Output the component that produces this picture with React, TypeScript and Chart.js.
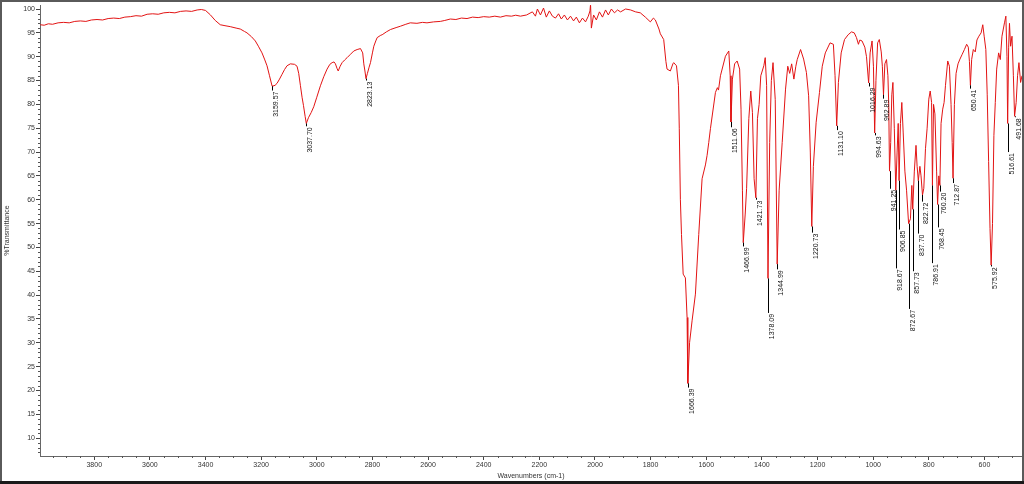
import React, { useEffect, useRef } from 'react';
import { Chart, registerables } from 'chart.js';
Chart.register(...registerables);

// IR spectrum (wavenumber in cm-1, %T)
const wavenumbers = [
  3994, 3980, 3965, 3950, 3930, 3910, 3890, 3870, 3850, 3830, 3810, 3790, 3770, 3750, 3730, 3710, 3690, 3670, 3650, 3630,
  3610, 3590, 3570, 3550, 3530, 3510, 3490, 3470, 3450, 3430, 3415, 3400, 3383, 3365, 3347, 3330, 3311, 3290, 3275, 3260,
  3251, 3235, 3221, 3210, 3197, 3188, 3179, 3170, 3161, 3159.57, 3150, 3143, 3134, 3125, 3116, 3107, 3095, 3080, 3071, 3065,
  3059, 3053, 3048, 3042, 3037.7, 3030, 3020, 3011, 3000, 2987, 2975, 2963, 2953, 2945, 2938, 2933, 2927, 2923, 2916, 2909,
  2900, 2891, 2879, 2867, 2855, 2843, 2835, 2831, 2827, 2823.13, 2818, 2812, 2807, 2800, 2795, 2788, 2783, 2770, 2765, 2750,
  2735, 2715, 2699, 2680, 2664, 2640, 2620, 2604, 2580, 2556, 2540, 2520, 2500, 2480, 2460, 2440, 2420, 2400, 2380, 2360,
  2340, 2320, 2300, 2285, 2268, 2246, 2225, 2214, 2207, 2196, 2185, 2175, 2164, 2153, 2142, 2131, 2121, 2110, 2099, 2088,
  2077, 2067, 2056, 2045, 2034, 2024, 2018, 2016, 2013, 2005, 1995, 1984, 1973, 1962, 1952, 1941, 1930, 1919, 1908, 1890,
  1872, 1854, 1837, 1819, 1801, 1790, 1783, 1770, 1765, 1753, 1745, 1741, 1729, 1720, 1717, 1707, 1700, 1697, 1693, 1689,
  1683, 1675, 1669, 1666.39, 1660, 1651, 1639, 1627, 1615, 1603, 1597, 1591, 1585, 1567, 1560, 1556, 1549, 1531, 1519, 1514,
  1511.06, 1506, 1498, 1489, 1480, 1475, 1470, 1466.99, 1460, 1455, 1447, 1440, 1434, 1428, 1421.73, 1416, 1410, 1404, 1393, 1388,
  1383, 1378.09, 1372, 1366, 1360, 1352, 1344.99, 1338, 1327, 1315, 1307, 1300, 1293, 1285, 1278, 1273, 1261, 1250, 1240, 1232,
  1226, 1220.73, 1215, 1205, 1193, 1183, 1172, 1155, 1143, 1137, 1131.1, 1125, 1115, 1103, 1090, 1078, 1068, 1060, 1053, 1048,
  1040, 1030, 1024, 1016.29, 1011, 1004, 999, 994.63, 990, 984, 978, 971, 967, 962.89, 958, 952, 947, 944, 941.25, 937,
  933, 929, 924, 918.67, 914, 910, 906.85, 902, 897, 892, 886, 880, 872.67, 866, 861, 857.73, 852, 846, 842, 837.7,
  832, 828, 822.72, 818, 812, 806, 800, 795, 790, 786.91, 783, 778, 772, 768.45, 764, 760.2, 756, 750, 745, 740,
  732, 726, 720, 716, 712.87, 708, 702, 695, 688, 680, 672, 664, 658, 654, 650.41, 646, 640, 633, 627, 620,
  612, 606, 601, 595, 590, 585, 580, 575.92, 571, 566, 561, 556, 549, 543, 537, 528, 523, 519, 516.61, 513,
  510, 506, 501, 496, 491.68, 486, 481, 476, 470, 465,
];

const transmittance = [
  96.7, 96.6, 96.9, 96.8, 97.1, 97.2, 97.1, 97.4, 97.5, 97.4, 97.7, 97.8, 97.7, 98.0, 98.1, 98.0, 98.3, 98.4, 98.6, 98.5,
  98.9, 99.0, 98.9, 99.2, 99.3, 99.2, 99.5, 99.6, 99.5, 99.8, 99.9, 99.7, 98.8, 97.6, 96.7, 96.5, 96.3, 96.0, 95.8, 95.3,
  95.0, 94.2, 93.3, 92.2, 90.8, 89.5, 88.1, 86.0, 83.9, 83.8, 84.0, 84.4, 85.3, 86.3, 87.3, 88.1, 88.5, 88.4, 88.0, 86.5,
  84.0, 81.5, 79.8, 77.5, 76.0, 77.2, 78.3, 79.5, 81.5, 83.9, 85.8, 87.4, 88.4, 88.75, 88.9, 88.5, 87.5, 87.0, 88.0, 88.75,
  89.3, 89.8, 90.5, 91.2, 91.5, 91.7, 90.8, 88.5, 87.0, 85.4, 86.5, 87.8, 88.75, 90.8, 92.2, 93.3, 94.0, 94.5, 94.6, 95.2,
  95.7, 96.1, 96.4, 96.8, 97.1, 97.0, 97.2, 97.1, 97.3, 97.4, 97.6, 97.9, 97.8, 98.1, 98.0, 98.3, 98.2, 98.4, 98.3, 98.5,
  98.3, 98.6, 98.5, 98.7, 98.5, 98.75, 99.4, 98.5, 100.0, 98.75, 100.2, 98.3, 99.6, 98.5, 98.1, 99.0, 97.9, 98.75, 97.7, 98.5,
  97.5, 98.3, 97.1, 98.1, 97.3, 98.5, 99.6, 101.0, 96.0, 98.75, 97.7, 99.4, 98.3, 99.8, 98.75, 100.0, 99.2, 99.8, 99.4, 100.0,
  99.8, 99.4, 99.2, 98.3, 97.3, 98.1, 97.7, 95.8, 94.8, 93.6, 89.0, 87.4, 87.0, 88.5, 88.75, 88.1, 84.0, 75.0, 60.0, 52.7,
  44.4, 43.6, 35.3, 21.5, 30.0, 34.6, 40.2, 52.7, 64.4, 67.3, 69.3, 72.0, 74.9, 82.5, 83.5, 83.0, 86.0, 90.1, 91.2, 86.0,
  76.3, 85.3, 88.5, 89.1, 87.4, 79.0, 62.0, 51.0, 57.0, 62.4, 77.0, 82.8, 78.3, 64.4, 60.4, 77.0, 80.0, 86.0, 88.1, 89.8,
  84.0, 43.5, 72.0, 85.0, 88.75, 81.0, 46.5, 62.0, 72.0, 83.2, 88.0, 86.5, 88.5, 85.3, 88.0, 89.4, 91.5, 89.5, 86.7, 81.8,
  70.0, 54.4, 67.0, 76.25, 82.5, 88.0, 90.8, 92.9, 92.6, 86.0, 75.5, 84.6, 90.8, 93.6, 94.6, 95.2, 95.0, 94.0, 92.6, 93.5,
  93.3, 92.0, 90.0, 84.5, 90.8, 93.3, 88.0, 74.0, 85.0, 92.9, 93.6, 91.0, 88.0, 82.0, 88.5, 89.4, 86.0, 80.0, 66.0, 72.0,
  82.0, 84.6, 75.0, 62.0, 70.0, 76.0, 64.0, 76.0, 80.4, 74.0, 66.0, 62.0, 55.0, 56.0, 63.0, 58.0, 66.0, 71.4, 67.0, 64.0,
  67.0, 65.0, 61.0, 62.4, 70.7, 75.0, 81.1, 82.8, 80.4, 63.0, 80.0, 78.0, 66.0, 59.0, 65.0, 63.0, 76.0, 79.0, 80.4, 84.0,
  89.1, 88.0, 80.0, 72.0, 64.5, 80.0, 86.5, 88.5, 89.5, 90.5, 91.5, 92.6, 92.0, 89.0, 84.0, 89.4, 91.5, 91.0, 93.5, 94.3,
  95.0, 96.7, 94.3, 91.5, 82.0, 68.0, 54.0, 46.3, 55.0, 73.5, 80.4, 87.4, 90.8, 89.4, 94.3, 97.1, 98.5, 90.0, 76.0, 92.0,
  97.0, 92.2, 94.3, 86.0, 77.5, 80.4, 86.0, 88.75, 84.6, 86.0,
];

// Peak labels: wavenumber, %T at the peak, %T where the label text starts
const peakWavenumbers = [
  3159.57, 3037.70, 2823.13, 1666.39, 1511.06, 1466.99, 1421.73, 1378.09, 1344.99, 1220.73,
  1131.10, 1016.29, 994.63, 962.89, 941.25, 918.67, 906.85, 872.67, 857.73, 837.70,
  822.72, 786.91, 768.45, 760.20, 712.87, 650.41, 575.92, 516.61, 491.68,
];
const peakTransmittance = [
  83.8, 76.0, 85.4, 21.5, 76.3, 51.0, 60.4, 43.5, 46.5, 54.4,
  75.5, 84.5, 74.0, 82.0, 66.0, 62.0, 64.0, 55.0, 58.0, 64.0,
  61.0, 63.0, 59.0, 63.0, 64.5, 84.0, 46.3, 76.0, 77.5,
];
const labelTransmittance = [
  82.9, 75.4, 85.0, 20.6, 75.2, 50.2, 60.0, 36.25, 45.4, 53.1,
  74.6, 83.75, 73.5, 81.2, 62.3, 45.6, 53.75, 37.1, 45.0, 52.9,
  59.6, 46.7, 54.2, 61.7, 63.5, 83.3, 46.0, 70.0, 77.3,
];

const xTickValues = [3800, 3600, 3400, 3200, 3000, 2800, 2600, 2400, 2200, 2000, 1800, 1600, 1400, 1200, 1000, 800, 600];
const yTickValues = [10, 15, 20, 25, 30, 35, 40, 45, 50, 55, 60, 65, 70, 75, 80, 85, 90, 95, 100];

const X_MIN = 465;
const X_MAX = 3995;
const Y_MIN = 6.25;
const Y_MAX = 100.8;

const FONT = '"Liberation Sans", Arial, sans-serif';

const minorTicksPlugin = {
  id: 'minorTicks',
  afterDraw(chart: any) {
    const { ctx, scales, chartArea } = chart;
    const x = scales.x;
    const y = scales.y;
    ctx.save();
    ctx.strokeStyle = '#555';
    ctx.lineWidth = 1;
    ctx.beginPath();
    for (let v = 500; v <= 3950; v += 50) {
      if (v % 200 === 0) continue;
      const px = Math.round(x.getPixelForValue(v)) + 0.5;
      ctx.moveTo(px, chartArea.bottom);
      ctx.lineTo(px, chartArea.bottom + 2);
    }
    for (let v = 7; v <= 100; v++) {
      if (v % 5 === 0) continue;
      const py = Math.round(y.getPixelForValue(v)) + 0.5;
      ctx.moveTo(chartArea.left - 2, py);
      ctx.lineTo(chartArea.left, py);
    }
    ctx.stroke();
    ctx.restore();
  },
};

const peakLabelPlugin = {
  id: 'peakLabels',
  afterDatasetsDraw(chart: any) {
    const { ctx, scales, chartArea } = chart;
    const x = scales.x;
    const y = scales.y;
    ctx.save();
    ctx.beginPath();
    ctx.rect(chartArea.left, chartArea.top, chartArea.right - chartArea.left, chartArea.bottom - chartArea.top);
    ctx.clip();
    ctx.font = `7px ${FONT}`;
    ctx.fillStyle = '#111';
    ctx.strokeStyle = '#000';
    ctx.lineWidth = 1;
    peakWavenumbers.forEach((w, i) => {
      const px = Math.round(x.getPixelForValue(w)) + 0.5;
      const py0 = y.getPixelForValue(peakTransmittance[i]);
      const py1 = y.getPixelForValue(labelTransmittance[i]);
      ctx.beginPath();
      ctx.moveTo(px, py0);
      ctx.lineTo(px, py1);
      ctx.stroke();
      ctx.save();
      ctx.translate(px + 0.5, py1 + 1);
      ctx.rotate(-Math.PI / 2);
      ctx.textAlign = 'right';
      ctx.textBaseline = 'top';
      ctx.fillText(w.toFixed(2), 0, 0);
      ctx.restore();
    });
    ctx.restore();
  },
};

const framePlugin = {
  id: 'frame',
  afterDraw(chart: any) {
    const { ctx, width, height } = chart;
    ctx.save();
    ctx.fillStyle = '#5a5a5a';
    ctx.fillRect(0, 0, width, 2);
    ctx.fillRect(0, 0, 2, height);
    ctx.fillRect(width - 2, 0, 2, height);
    ctx.fillStyle = '#1a1a1a';
    ctx.fillRect(0, height - 3, width, 3);
    ctx.restore();
  },
};

export default function App() {
  const canvasRef = useRef<HTMLCanvasElement>(null);

  useEffect(() => {
    document.body.style.margin = '0';
    const canvas = canvasRef.current;
    if (!canvas) return;
    const points = wavenumbers.map((w, i) => ({ x: w, y: transmittance[i] }));
    const chart = new Chart(canvas, {
      type: 'line',
      data: {
        datasets: [
          {
            data: points,
            borderColor: 'rgb(226, 20, 20)',
            borderWidth: 1,
            pointRadius: 0,
            tension: 0,
            fill: false,
          },
        ],
      },
      options: {
        responsive: false,
        animation: false,
        devicePixelRatio: 1,
        parsing: false as any,
        normalized: true,
        layout: { padding: { top: 2, right: 2, left: 0, bottom: 0 } },
        plugins: {
          legend: { display: false },
          tooltip: { enabled: false },
        },
        scales: {
          x: {
            type: 'linear',
            reverse: true,
            min: X_MIN,
            max: X_MAX,
            afterBuildTicks: (s: any) => {
              s.ticks = xTickValues.map((v) => ({ value: v }));
            },
            afterFit: (s: any) => {
              s.height = 28;
            },
            grid: { display: true, drawOnChartArea: false, drawTicks: true, tickLength: 4, color: '#444' },
            border: { display: true, color: '#666', width: 1 },
            ticks: {
              font: { family: FONT, size: 7 },
              color: '#333',
              padding: 1,
              maxRotation: 0,
              autoSkip: false,
              callback: (v: any) => String(v),
            },
            title: {
              display: true,
              text: 'Wavenumbers (cm-1)',
              font: { family: FONT, size: 7 },
              color: '#333',
              padding: { top: 0, bottom: 4 },
            },
          },
          y: {
            type: 'linear',
            min: Y_MIN,
            max: Y_MAX,
            afterBuildTicks: (s: any) => {
              s.ticks = yTickValues.map((v) => ({ value: v }));
            },
            afterFit: (s: any) => {
              s.width = 40;
            },
            grid: { display: true, drawOnChartArea: false, drawTicks: true, tickLength: 4, color: '#444' },
            border: { display: true, color: '#666', width: 1 },
            ticks: {
              font: { family: FONT, size: 7 },
              color: '#333',
              padding: 1,
              autoSkip: false,
              callback: (v: any) => String(v),
            },
            title: {
              display: true,
              text: '%Transmittance',
              font: { family: FONT, size: 7 },
              color: '#333',
              padding: { top: 3, bottom: 0 },
            },
          },
        },
      },
      plugins: [minorTicksPlugin, peakLabelPlugin, framePlugin],
    });
    return () => chart.destroy();
  }, []);

  return (
    <div style={{ position: 'absolute', left: 0, top: 0, width: 1024, height: 484, background: '#fff' }}>
      <canvas ref={canvasRef} width={1024} height={484} style={{ display: 'block', width: 1024, height: 484 }} />
    </div>
  );
}
